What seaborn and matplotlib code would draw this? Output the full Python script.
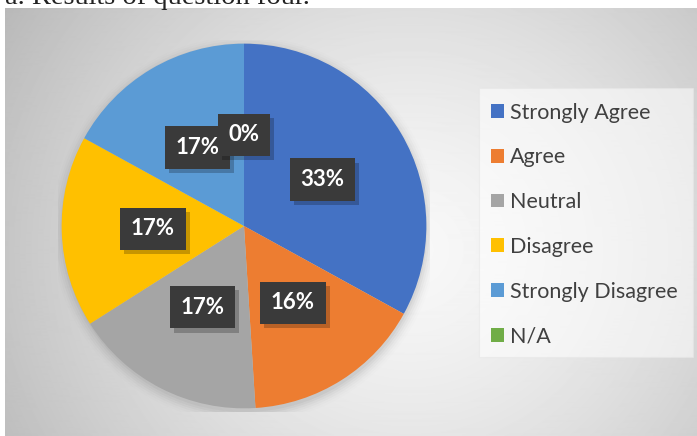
import numpy as np
import matplotlib
matplotlib.use("Agg")
import matplotlib.pyplot as plt
import matplotlib.patches as mpatches
import matplotlib.patheffects as pe
import seaborn as sns

# Survey responses for the question (percent of respondents)
categories = ["Strongly Agree", "Agree", "Neutral", "Disagree", "Strongly Disagree", "N/A"]
percentages = [33, 16, 17, 17, 17, 0]
slice_colors = ["#4472C4", "#ED7D31", "#A5A5A5", "#FFC000", "#5B9BD5", "#70AD47"]
caption = "a. Results of question four."

sns.set_theme(style="white")
plt.rcParams["font.family"] = ["Lato", "DejaVu Sans"]

W, H = 697, 436
fig = plt.figure(figsize=(W / 100, H / 100), dpi=100)
fig.patch.set_facecolor("white")

# caption line above the chart (only its lower part is inside the canvas)
fig.text(5 / W, 1 - 4 / H, caption, family=["Liberation Serif"], fontsize=20.5,
         color="#222222", va="baseline", ha="left")

# chart area with a soft radial gradient
box_l, box_t = 5, 8
bg = fig.add_axes([box_l / W, 0, (W - box_l) / W, (H - box_t) / H])
yy, xx = np.mgrid[box_t:H, box_l:W]
cx, cy = 410, 250
d = np.hypot(xx - cx, (yy - cy) * 1.05) / 470
shade = np.clip(248 - 62 * d ** 1.4, 180, 250) / 255
bg.imshow(shade, cmap="gray", vmin=0, vmax=1, aspect="auto",
          extent=[0, 1, 0, 1], interpolation="bilinear")
bg.set_xlim(0, 1)
bg.set_ylim(0, 1)
bg.axis("off")

# pie
pcx, pcy, r = 244, 226, 186
ax = fig.add_axes([(pcx - r) / W, (H - pcy - r) / H, 2 * r / W, 2 * r / H])
ax.set_facecolor("none")

# soft shadow under the pie
for i, a in enumerate(np.linspace(0.035, 0.008, 6)):
    ax.add_patch(mpatches.Circle((0.005, -0.02), 1.0 + 0.012 * i,
                                 color="black", alpha=a, lw=0, zorder=0))

wedges, _, autotexts = ax.pie(
    percentages, colors=slice_colors, startangle=90, counterclock=False,
    autopct=lambda p: f"{p:.0f}%", pctdistance=0.5,
    wedgeprops=dict(linewidth=0),
    textprops=dict(color="white", fontsize=16, fontweight="bold"),
)
for w in wedges:
    w.set_zorder(1)

for t in autotexts:
    t.set_zorder(3)
    t.set_bbox(dict(boxstyle="square,pad=0.48", fc="#3a3a3a", ec="none"))
    t.get_bbox_patch().set_path_effects([
        pe.SimplePatchShadow(offset=(3, -3), shadow_rgbFace="black", alpha=0.22),
        pe.Normal(),
    ])
ax.set_xlim(-1.02, 1.02)
ax.set_ylim(-1.02, 1.02)
ax.axis("off")

# legend panel
lx0, ly0, lx1, ly1 = 479, 88, 693, 357
fig.patches.append(mpatches.Rectangle((lx0 / W, 1 - ly1 / H), (lx1 - lx0) / W,
                                      (ly1 - ly0) / H, transform=fig.transFigure,
                                      fc="white", ec="#e6e6e6", lw=0.8, alpha=0.55,
                                      zorder=1))
leg = fig.legend(wedges, categories, loc="upper left",
                 bbox_to_anchor=(482 / W, 1 - 94 / H), frameon=False,
                 fontsize=15.5, labelcolor="#404040", handlelength=0.6,
                 handleheight=0.6, handletextpad=0.3, labelspacing=1.15,
                 borderaxespad=0)

fig.savefig("out.png", dpi=100)
